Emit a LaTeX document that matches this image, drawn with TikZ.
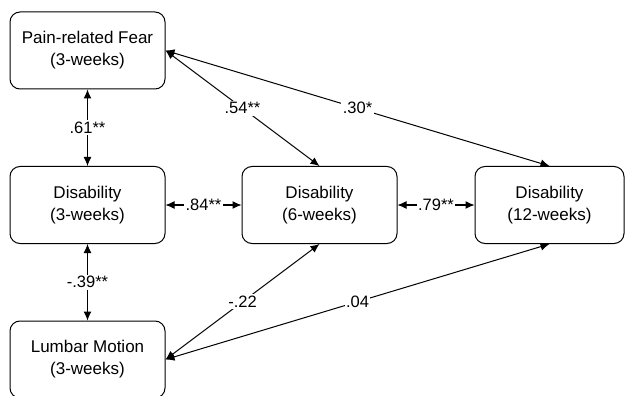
\documentclass[tikz,border=0pt]{standalone}
\usepackage{fontspec}
\setmainfont{Liberation Sans}
\usetikzlibrary{arrows.meta}
\begin{document}
\begin{tikzpicture}[x=1pt,y=-1pt,line width=1pt,>={Latex[length=9pt,width=8pt]},
	box/.style={draw,rounded corners=10pt,minimum width=155pt,minimum height=77pt,inner sep=0,align=center,font=\fontsize{17}{22}\selectfont},
	lab/.style={fill=white,inner sep=1.5pt,font=\fontsize{16.5}{20}\selectfont}]
		\useasboundingbox (0,0) rectangle (625,396);
		\node[box] (fear) at (87.5,50.5) {Pain-related Fear\\(3-weeks)};
		\node[box] (dis3) at (87.5,205) {Disability\\(3-weeks)};
		\node[box] (dis6) at (319.5,205) {Disability\\(6-weeks)};
		\node[box,minimum width=149pt] (dis12) at (549.5,205) {Disability\\(12-weeks)};
		\node[box] (lumbar) at (87.5,359.5) {Lumbar Motion\\(3-weeks)};
		% vertical links
		\draw[<->] (fear)--node[lab]{.61**}(dis3);
		\draw[<->] (dis3)--node[lab]{-.39**}(lumbar);
		% horizontal links
		\draw[<->] (dis3)--node[lab]{.84**}(dis6);
		\draw[<->] (dis6)--node[lab]{.79**}(dis12);
		% diagonal links
		\draw[<->] (fear.east)--node[lab]{.54**}(dis6.north);
		\draw[<->] (fear.east)--node[lab]{.30*}(dis12.north);
		\draw[<->] (lumbar.east)--node[lab]{-.22}(dis6.south);
		\draw[<->] (lumbar.east)--node[lab]{.04}(dis12.south);
	\end{tikzpicture}
\end{document}
